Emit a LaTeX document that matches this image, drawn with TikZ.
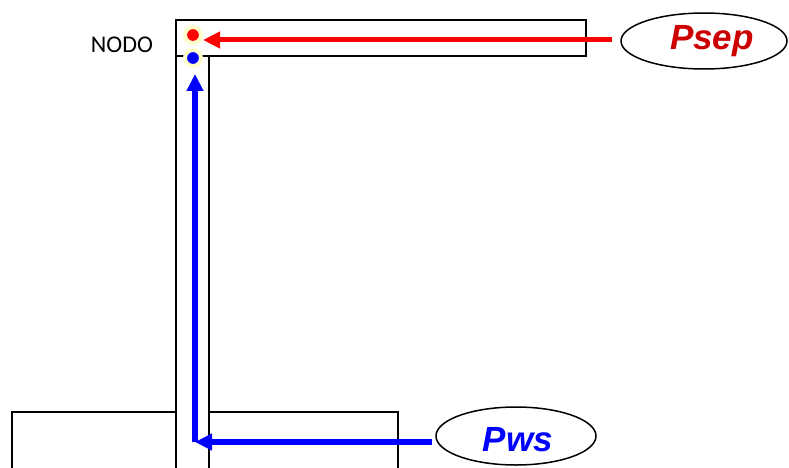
\documentclass[tikz,border=0pt]{standalone}
\usepackage{fontspec}
\setmainfont{Liberation Sans}
\newfontfamily\carl{Carlito}
\usetikzlibrary{arrows.meta,shapes.geometric}
\definecolor{psepred}{HTML}{CC0000}
\definecolor{glow}{HTML}{FFFFCC}
\tikzset{
  wall/.style={draw=black, line width=2pt},
  flow/.style={line width=#1, -{Triangle[length=17pt,width=16pt]}},
  label/.style={draw=black, line width=1.5pt, ellipse, inner sep=0pt},
  dot/.style={circle, inner sep=0pt, minimum size=16pt, draw=glow, line width=4pt},
  tag/.style={font=\fontsize{35}{35}\selectfont\bfseries\itshape},
}
\begin{document}
\begin{tikzpicture}[x=1pt,y=-1pt]
\useasboundingbox (0,0) rectangle (789,468);
% structure
\draw[wall] (176,20) rectangle (586,56);
\draw[wall] (176,56) -- (176,475);
\draw[wall] (209,56) -- (209,475);
\draw[wall] (176,412) -- (12,412) -- (12,475);
\draw[wall] (209,412) -- (398,412) -- (398,475);
% labels
\node[label, minimum width=166pt, minimum height=56pt] (psep) at (704,41) {};
\node[tag, text=psepred] (psept) at (712,41) {Psep};
\node[label, minimum width=160pt, minimum height=58pt] (pws) at (516,436) {};
\node[tag, text=blue] (pwst) at (518,440) {Pws};
% nodes
\node[dot, fill=red] (nr) at (193,35) {};
\node[dot, fill=blue] (nb) at (193,58) {};
\node[font=\carl\fontsize{24}{24}\selectfont] (nodo) at (122,45) {NODO};
% arrows
\coordinate (rs) at (612,40);
\coordinate (bs) at (432,442);
\coordinate (bc) at (195,442);
\coordinate (bt) at (195,74);
\draw[flow=5pt, red] (rs) -- (rs -| nr.east);
\draw[flow=6pt, blue] (bs) -- (bc);
\draw[flow=6pt, blue] (bc) -- (bt);
\end{tikzpicture}
\end{document}
